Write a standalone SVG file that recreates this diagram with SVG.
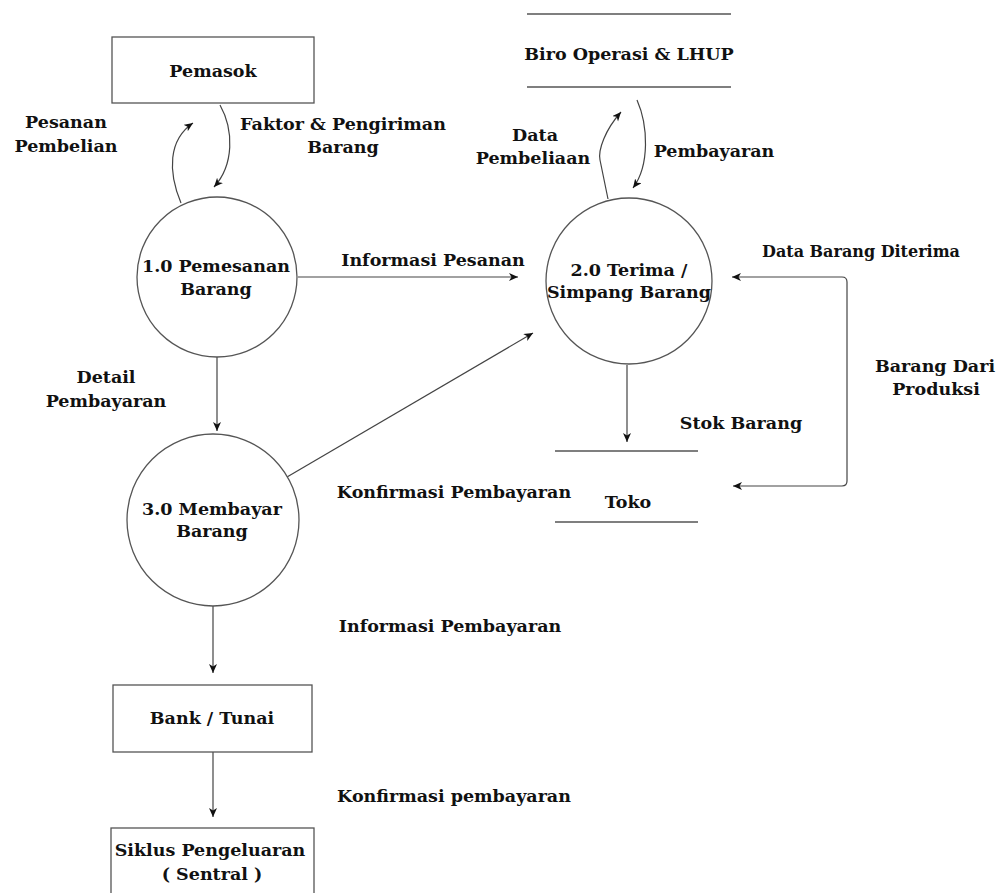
<svg xmlns="http://www.w3.org/2000/svg" width="998" height="893" viewBox="0 0 998 893">
<style>
.shape{fill:#fff;stroke:#555;stroke-width:1.3}
.store{stroke:#555;stroke-width:1.3;fill:none}
.conn{fill:none;stroke:#444;stroke-width:1.2}
text{font-family:"DejaVu Serif","Liberation Serif",serif;font-weight:bold;font-size:17.5px;fill:#111;text-anchor:middle}
.sm{font-size:16px}
</style>
<defs>
<marker id="arr" markerUnits="userSpaceOnUse" markerWidth="12" markerHeight="10" refX="9" refY="4" orient="auto-start-reverse">
<path d="M0,0 L9,4 L0,8 L2.5,4 Z" fill="#111"/>
</marker>
</defs>
<rect width="998" height="893" fill="#fff"/>
<g id="connectors">
<path class="conn" d="M217,356 L217,431" marker-end="url(#arr)"/>
<path class="conn" d="M298,277 L518,277" marker-end="url(#arr)"/>
<path class="conn" d="M287,477 L533,333" marker-end="url(#arr)"/>
<path class="conn" d="M627,365 L627,442" marker-end="url(#arr)"/>
<path class="conn" d="M213,606 L213,673" marker-end="url(#arr)"/>
<path class="conn" d="M213,752 L213,817" marker-end="url(#arr)"/>
<path class="conn" d="M732,277 L842,277 Q847,277 847,282 L847,481 Q847,486 842,486 L733,486" marker-start="url(#arr)" marker-end="url(#arr)"/>
<path class="conn" d="M181,203 C168,172 168,140 193,123" marker-end="url(#arr)"/>
<path class="conn" d="M220,105 C234,130 234,165 214,187" marker-end="url(#arr)"/>
<path class="conn" d="M608,199 L600,160 C598,150 605,130 621,112" marker-end="url(#arr)"/>
<path class="conn" d="M637,100 C648,125 650,165 633,188" marker-end="url(#arr)"/>
</g>
<g id="pemasok">
<rect class="shape" x="112" y="37" width="202" height="66"/>
<text x="213" y="77">Pemasok</text>
</g>
<g id="biro">
<line class="store" x1="527" y1="14" x2="731" y2="14"/>
<line class="store" x1="527" y1="87" x2="731" y2="87"/>
<text x="629" y="60">Biro Operasi &amp; LHUP</text>
</g>
<g id="p1">
<circle class="shape" cx="217" cy="277" r="80"/>
<text x="216" y="272">1.0 Pemesanan</text>
<text x="216" y="295">Barang</text>
</g>
<g id="p2">
<circle class="shape" cx="629" cy="281" r="83"/>
<text x="629" y="276">2.0 Terima /</text>
<text x="629" y="298">Simpang Barang</text>
</g>
<g id="p3">
<circle class="shape" cx="213" cy="520" r="86"/>
<text x="212" y="515">3.0 Membayar</text>
<text x="212" y="537">Barang</text>
</g>
<g id="toko">
<line class="store" x1="555" y1="451" x2="698" y2="451"/>
<line class="store" x1="555" y1="522" x2="698" y2="522"/>
<text x="628" y="508">Toko</text>
</g>
<g id="bank">
<rect class="shape" x="113" y="685" width="199" height="67"/>
<text x="212" y="724">Bank / Tunai</text>
</g>
<g id="siklus">
<rect class="shape" x="111" y="828" width="203" height="75"/>
<text x="210" y="856">Siklus Pengeluaran</text>
<text x="212" y="880">( Sentral )</text>
</g>
<g id="labels">
<text x="66" y="128">Pesanan</text>
<text x="66" y="152">Pembelian</text>
<text x="343" y="130">Faktor &amp; Pengiriman</text>
<text x="343" y="153">Barang</text>
<text x="535" y="141">Data</text>
<text x="533" y="164">Pembeliaan</text>
<text x="714" y="157">Pembayaran</text>
<text class="sm" x="861" y="257">Data Barang Diterima</text>
<text x="433" y="266">Informasi Pesanan</text>
<text x="935" y="372">Barang Dari</text>
<text x="936" y="395">Produksi</text>
<text x="741" y="429">Stok Barang</text>
<text x="106" y="383">Detail</text>
<text x="106" y="407">Pembayaran</text>
<text x="454" y="498">Konfirmasi Pembayaran</text>
<text x="450" y="632">Informasi Pembayaran</text>
<text x="454" y="802">Konfirmasi pembayaran</text>
</g>
</svg>
